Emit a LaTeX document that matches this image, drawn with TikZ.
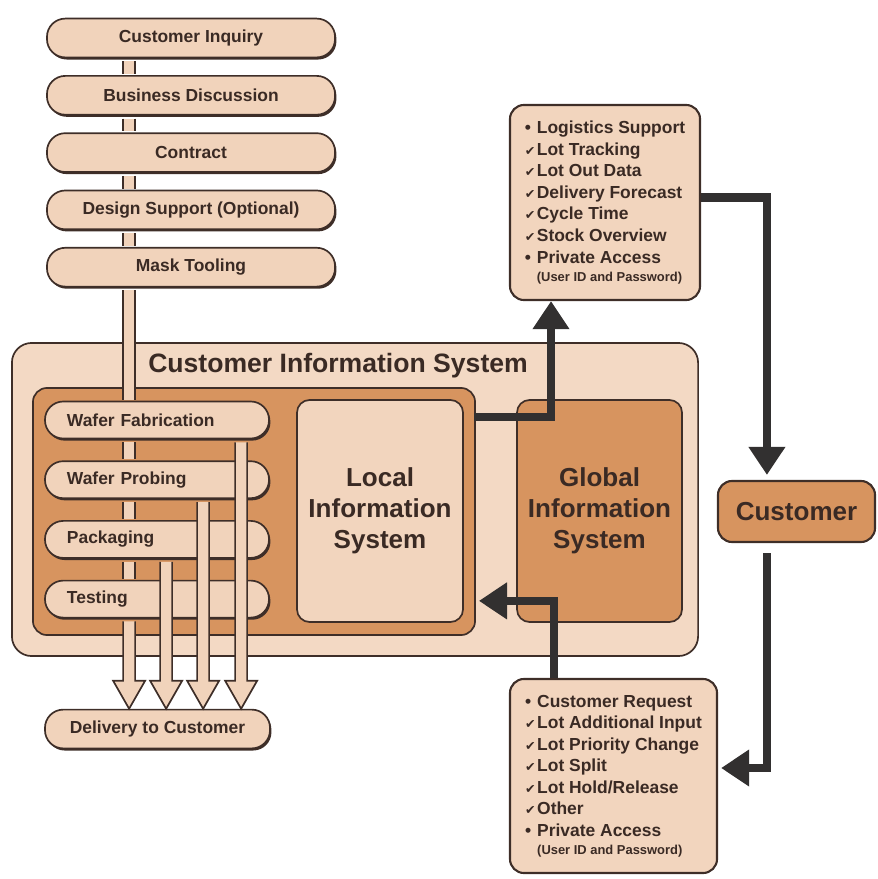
\documentclass[tikz,border=0pt]{standalone}
\usepackage{fontspec}
\setmainfont{Liberation Sans}
\newfontfamily\symfont{DejaVu Sans}
\usetikzlibrary{arrows.meta,calc,shadows}

\newcommand{\bul}{\makebox[0.3cm][l]{\textbullet}}
\newcommand{\chk}{\makebox[0.3cm][l]{{\symfont\fontsize{9}{9}\selectfont ✔}}}
\newcommand{\fine}[1]{\hspace*{0.3cm}{\fontsize{9.2}{11}\selectfont #1}}

% piece of pipe between two stages
\newcommand{\pipelink}[2]{%
  \fill[peach] ($(#1)+(-6,3)$) rectangle ($(#2)+(6,-1)$);
  \draw[pipe] ($(#1)+(-6,3)$) -- ($(#2)+(-6,-1)$) ($(#1)+(6,3)$) -- ($(#2)+(6,-1)$);}
% pipe ending in an open arrow head
\newcommand{\flowpipe}[2]{%
  \draw[pipe] ($(#1)+(-6,3)$) -- ($(#2)+(-6,-28)$) -- ($(#2)+(-16,-28)$) -- (#2)
    -- ($(#2)+(16,-28)$) -- ($(#2)+(6,-28)$) -- ($(#1)+(6,3)$);}

\begin{document}
\begin{tikzpicture}[x=0.025cm, y=-0.025cm,
  stagepill/.style={draw=edge, line width=1.2pt, fill=peach, rounded corners=13pt,
    minimum width=7.2cm, minimum height=0.97cm, inner sep=0pt, text=ink,
    font=\fontsize{12.4}{14}\selectfont\bfseries,
    drop shadow={shadow xshift=1pt, shadow yshift=-1.5pt, fill=edge, opacity=1}},
  procpill/.style={stagepill, minimum width=5.6cm, minimum height=0.925cm,
    text width=4.5cm, align=left, inner xsep=0.55cm},
  cisbox/.style={draw=edge, line width=1.2pt, fill=cisfill, rounded corners=14pt, inner sep=0pt},
  plantbox/.style={draw=edge, line width=1.2pt, fill=copper, rounded corners=10pt, inner sep=0pt},
  isbox/.style={draw=edge, line width=1.2pt, rounded corners=9pt, inner sep=0pt, align=center,
    text=ink, font=\fontsize{18.5}{22}\selectfont\bfseries},
  infobox/.style={draw=edge, line width=1.5pt, fill=lisfill, rounded corners=10pt, align=left,
    text=ink, font=\fontsize{12.4}{15.3}\selectfont\bfseries},
  custbox/.style={draw=edge, line width=1.5pt, fill=copper, rounded corners=10pt, text=ink,
    font=\fontsize{18.5}{22}\selectfont\bfseries},
  pipe/.style={draw=edge, line width=1.2pt, fill=peach, line join=miter},
  flow/.style={draw=arrowgray, line width=5.7pt, -{Triangle[length=20pt,width=25pt]}}]
% Define colours
\definecolor{peach}{RGB}{241,211,187}
\definecolor{cisfill}{RGB}{243,217,196}
\definecolor{lisfill}{RGB}{242,213,190}
\definecolor{copper}{RGB}{215,148,95}
\definecolor{edge}{RGB}{62,46,40}
\definecolor{ink}{RGB}{58,42,36}
\definecolor{arrowgray}{RGB}{50,48,48}

\useasboundingbox (0,0) rectangle (877,879);

% Customer information system
\node[cisbox, minimum width=17.15cm, minimum height=7.825cm] (cis) at (355,499.5) {};
\node[anchor=west, inner sep=0pt, text=ink, font=\fontsize{18.9}{22}\selectfont\bfseries] (cistitle) at (148,366) {Customer Information System};
\node[plantbox, minimum width=11.05cm, minimum height=6.175cm] (plant) at (254,511.5) {};
\node[isbox, fill=lisfill, minimum width=4.15cm, minimum height=5.55cm] (lis) at (380,511) {Local\\Information\\System};
\node[isbox, fill=copper, minimum width=4.125cm, minimum height=5.55cm] (gis) at (599.5,511) {Global\\Information\\System};

% Front end stages
\foreach \name/\txt [count=\i] in {inq/Customer Inquiry, disc/Business Discussion, ctr/Contract, dsn/Design Support (Optional), mask/Mask Tooling}
  \node[stagepill] (\name) at (191,{38+57.3*(\i-1)}) {\txt};

% Manufacturing stages
\foreach \name/\txt [count=\i] in {wfab/Wafer Fabrication, wprb/Wafer Probing, pkg/Packaging, tst/Testing}
  \node[procpill] (\name) at (157,{420+59.7*(\i-1)}) {\txt};

\node[stagepill, minimum width=5.625cm] (dlv) at (157.5,729) {Delivery to Customer};
\coordinate (spine) at ($(dlv.north west)+(85,0)$);

% Pipes
\foreach \a/\b in {inq/disc, disc/ctr, ctr/dsn, dsn/mask, mask/wfab, wfab/wprb, wprb/pkg, pkg/tst}
  \pipelink{\a.south -| spine}{\b.north -| spine};
\flowpipe{tst.south -| spine}{spine}
\foreach \src/\dx in {pkg/37, wprb/74, wfab/112} {
  \coordinate (tip) at ($(spine)+(\dx,0)$);
  \flowpipe{\src.south -| tip}{tip}
}

% Customer side
\node[infobox, minimum width=4.75cm, minimum height=4.875cm] (logi) at (605,202.5) {%
  \bul Logistics Support\\
  \chk Lot Tracking\\
  \chk Lot Out Data\\
  \chk Delivery Forecast\\
  \chk Cycle Time\\
  \chk Stock Overview\\
  \bul Private Access\\[-2.5pt]
  \fine{(User ID and Password)}};
\node[custbox, minimum width=3.925cm, minimum height=1.525cm] (cust) at (796.5,511.5) {Customer};
\node[infobox, minimum width=5.175cm, minimum height=4.85cm] (req) at (613.5,776) {%
  \bul Customer Request\\
  \chk Lot Additional Input\\
  \chk Lot Priority Change\\
  \chk Lot Split\\
  \chk Lot Hold/Release\\
  \chk Other\\
  \bul Private Access\\[-2.5pt]
  \fine{(User ID and Password)}};

% Information flow
\draw[flow] ($(plant.north east)+(-2,30)$) -| ($(logi.south)+(-54,0)$);
\draw[flow] ($(logi.east)+(0,-5)$) -| ($(cust.north west)+(50,-5)$);
\draw[flow] ($(cust.south west)+(50,10)$) |- ($(req.east)+(3,-8)$);
\draw[flow] ($(req.north)+(-60,0)$) |- ($(plant.south east)+(3,-35)$);
\end{tikzpicture}
\end{document}
